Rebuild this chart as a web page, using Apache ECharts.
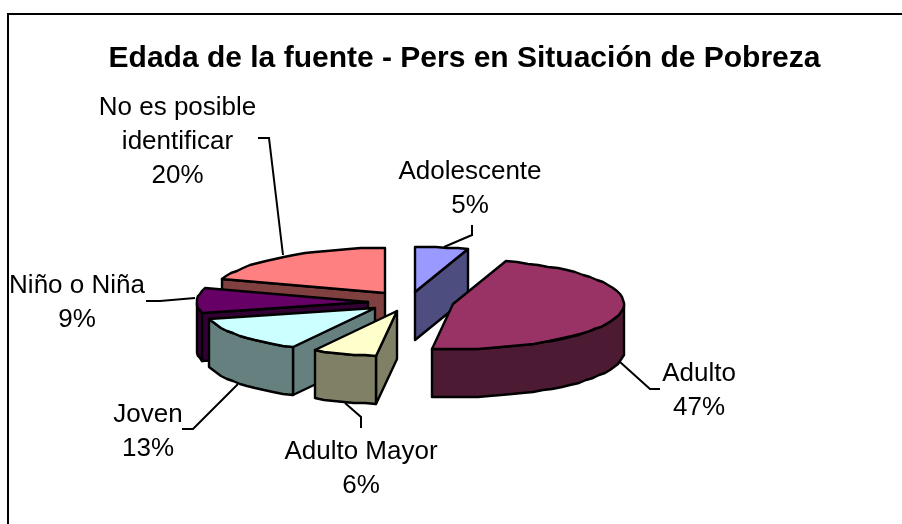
<!DOCTYPE html>
<html><head><meta charset="utf-8">
<style>html,body{margin:0;padding:0;background:#fff}#c{width:902px;height:524px}</style>
<script src="https://cdn.jsdelivr.net/npm/echarts@6/dist/echarts.min.js"></script>
</head><body><div id="c"></div>
<script>
const titleText = 'Edada de la fuente - Pers en Situación de Pobreza';
const categories = ['Adolescente','Adulto','Adulto Mayor','Joven','Niño o Niña','No es posible\nidentificar'];
const values = [5,47,6,13,9,20];

const topColors = ['#9999FF','#993366','#FFFFCC','#CCFFFF','#660066','#FF8080'];
const wallColors = ['#4D4D80','#4D1A33','#808066','#668080','#330033','#804040'];
const apexes = [[415,292],[453,304],[397,311],[375,308],[368,302],[385,293]];
const paintOrder = [1,6,5,4,3,2];
const labelCenters = [[470,178],[699,380],[361,458],[148,421],[77,292],[177.5,114]];
const leaders = [
  [[472,225],[472,235],[444,247]],
  [[620,362],[650,389],[660,389]],
  [[345,403],[361,417],[361,428]],
  [[238,384],[193,429],[182,429]],
  [[146,301],[160,301],[195,298]],
  [[258,138],[269,138],[283,255]]
];
const RX = 171, RY = 45, DEPTH = 48, LINE_H = 34, BASE_OFFSET = 7;
const total = values.reduce((a,b)=>a+b,0);
const rad = d => d*Math.PI/180;

function renderSlice(params, api){
  const i = params.dataIndex;
  const before = values.slice(0,i).reduce((a,b)=>a+b,0);
  const a0 = before/total*360, a1 = (before+values[i])/total*360;
  const [cx,cy] = apexes[i];
  const pt = (a,d=0)=>[Math.round(cx+RX*Math.sin(rad(a))), Math.round(cy-RY*Math.cos(rad(a)))+d];
  const arc = (s,e)=>{const n=Math.max(2,Math.ceil((e-s)/4));const o=[];for(let k=0;k<=n;k++)o.push(pt(s+(e-s)*k/n));return o;};
  const z = paintOrder[i]*10;
  const lineStyle = {stroke:'#000',lineWidth:2.4,lineJoin:'round'};
  const children = [];
  const poly = (points,fill,dz)=>children.push({type:'polygon',z2:z+dz,shape:{points},style:{fill,...lineStyle}});
  const api0 = api.value(0);
  if(Math.sin(rad(a0))<-1e-6) poly([[cx,cy],pt(a0),pt(a0,DEPTH),[cx,cy+DEPTH]],wallColors[i],0);
  if(Math.sin(rad(a1))>1e-6) poly([[cx,cy],pt(a1),pt(a1,DEPTH),[cx,cy+DEPTH]],wallColors[i],0);
  const s=Math.max(a0,90), e=Math.min(a1,270);
  if(e>s){const t=arc(s,e);const b=t.map(p=>[p[0],p[1]+DEPTH]).reverse();poly(t.concat(b),wallColors[i],1);}
  poly([[cx,cy]].concat(arc(a0,a1)),topColors[i],2);
  const [lx,ly]=labelCenters[i];
  const lines=categories[i].split('\n').concat(api0+'%');
  lines.forEach((t,k)=>children.push({type:'text',z2:200,style:{text:t,x:lx,y:ly+BASE_OFFSET+k*LINE_H,textAlign:'center',textVerticalAlign:'bottom',font:'26px "Liberation Sans"',fill:'#000'}}));
  children.push({type:'polyline',z2:z-1,shape:{points:leaders[i]},style:{fill:'none',stroke:'#000',lineWidth:2}});
  return {type:'group',children};
}

const chart = echarts.init(document.getElementById('c'),null,{renderer:'canvas'});
chart.setOption({
  animation:false,
  backgroundColor:'#fff',
  title:{text:titleText,left:459.5,top:39,textAlign:'center',textStyle:{fontFamily:'Liberation Sans',fontSize:30,fontWeight:'bold',color:'#000'}},
  graphic:[
    {type:'line',shape:{x1:7,y1:14,x2:902,y2:14},style:{stroke:'#000',lineWidth:2}},
    {type:'line',shape:{x1:8,y1:14,x2:8,y2:524},style:{stroke:'#000',lineWidth:2}}
  ],
  series:[{type:'custom',coordinateSystem:'none',renderItem:renderSlice,data:values.map(v=>[v]),silent:true}]
});
</script></body></html>
